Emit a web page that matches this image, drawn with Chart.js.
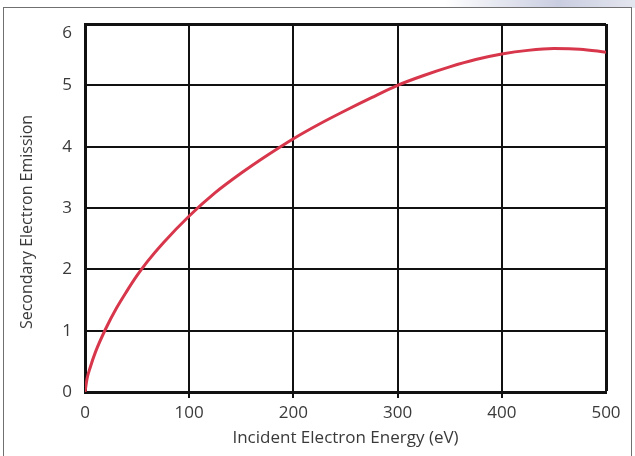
<!DOCTYPE html>
<html>
<head>
<meta charset="utf-8">
<script src="https://cdn.jsdelivr.net/npm/chart.js@4"></script>
<style>
    html, body { margin: 0; padding: 0; background: #fff; }
    #wrap { position: relative; width: 635px; height: 456px; overflow: hidden; }
    #topfade { position: absolute; left: 0; top: 0; width: 635px; height: 8px;
        background: linear-gradient(to right, #fff 0%, #fff 70%, #c9cde0 88%, #e4e6ef 100%); }
    #frame { position: absolute; left: 3px; top: 7px; width: 629px; height: 470px;
        border: 1px solid #707070; box-sizing: border-box; pointer-events: none; }
    #chart { position: absolute; left: 0; top: 0; }
</style>
</head>
<body>
<div id="wrap">
    <div id="topfade"></div>
    <div id="frame"></div>
    <canvas id="chart" width="635" height="456"></canvas>
</div>
<script>
// --- DATA ---
const energy = [0, 2, 5, 10, 20, 30, 40, 50, 60, 75, 100, 125, 150, 175, 200, 225, 250, 275, 300, 325, 350, 375, 400, 425, 450, 475, 500];
const emission = [0, 0.22, 0.40, 0.65, 1.035, 1.36, 1.64, 1.90, 2.13, 2.43, 2.87, 3.25, 3.57, 3.86, 4.13, 4.37, 4.59, 4.80, 5.0, 5.16, 5.30, 5.42, 5.51, 5.57, 5.60, 5.59, 5.54];
const xTicks = [0, 100, 200, 300, 400, 500];
const yTicks = [0, 1, 2, 3, 4, 5, 6];

const FONT = 'Open Sans';
const TEXT = '#3a3a3a';

const points = energy.map((e, i) => ({ x: e, y: emission[i] }));

// y title sits a little below the axis middle in the original, so draw it ourselves
const yTitlePlugin = {
    id: 'yTitle',
    beforeDraw(chart) {
        // the top label "6" sits a bit under the top border in the original
        const ys = chart.scales.y;
        const items = ys.getLabelItems(chart.chartArea);
        items.forEach(it => {
            if (it.label === '6') it.options.translation[1] += 9;
        });
    },
    afterDraw(chart) {
        const c = chart.ctx;
        const area = chart.chartArea;
        c.save();
        c.translate(27, (area.top + area.bottom) / 2 + 14);
        c.rotate(-Math.PI / 2);
        c.font = '16px "' + FONT + '"';
        c.fillStyle = TEXT;
        c.textAlign = 'center';
        c.textBaseline = 'middle';
        c.fillText('Secondary Electron Emission', 0, 0);
        c.restore();
    }
};

const ctx = document.getElementById('chart').getContext('2d');
new Chart(ctx, {
    type: 'line',
    data: {
        datasets: [{
            data: points,
            borderColor: '#d7364b',
            borderWidth: 3,
            pointRadius: 0,
            cubicInterpolationMode: 'monotone',
            fill: false
        }]
    },
    options: {
        responsive: false,
        animation: false,
        layout: { padding: { top: 24, right: 29, left: 0, bottom: 0 } },
        plugins: { legend: { display: false }, tooltip: { enabled: false } },
        scales: {
            x: {
                type: 'linear',
                min: xTicks[0],
                max: xTicks[xTicks.length - 1],
                afterBuildTicks: s => { s.ticks = xTicks.map(v => ({ value: v })); },
                afterFit: s => { s.height = 64; },
                grid: {
                    color: '#111',
                    lineWidth: c => (c.tick && c.tick.value === 500) ? 3 : 2,
                    tickLength: 6,
                    tickWidth: 2,
                    tickColor: c => (c.index === 0 || c.index === xTicks.length - 1) ? 'rgba(0,0,0,0)' : '#111'
                },
                border: { color: '#111', width: 3 },
                ticks: { color: TEXT, font: { family: FONT, size: 17 }, padding: 5, maxRotation: 0 },
                title: {
                    display: true,
                    text: 'Incident Electron Energy (eV)',
                    color: TEXT,
                    font: { family: FONT, size: 17 },
                    padding: { top: 0, bottom: 8 }
                }
            },
            y: {
                type: 'linear',
                min: yTicks[0],
                max: yTicks[yTicks.length - 1],
                afterBuildTicks: s => { s.ticks = yTicks.map(v => ({ value: v })); },
                afterFit: s => { s.width = 85; },
                grid: {
                    color: '#111',
                    lineWidth: c => (c.tick && c.tick.value === 6) ? 3 : 2,
                    drawTicks: false
                },
                border: { color: '#111', width: 3 },
                ticks: { color: TEXT, font: { family: FONT, size: 17 }, padding: 13 }
            }
        }
    },
    plugins: [yTitlePlugin]
});
</script>
</body>
</html>
